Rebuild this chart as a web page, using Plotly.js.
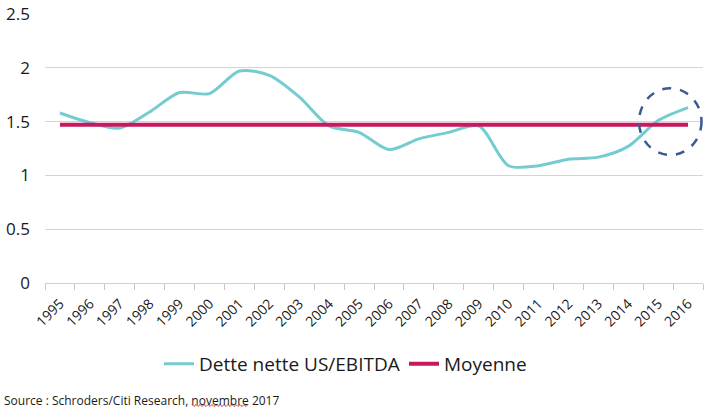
<!DOCTYPE html>
<html><head><meta charset="utf-8">
<script src="https://cdn.plot.ly/plotly-3.0.1.min.js"></script>
<style>html,body{margin:0;padding:0;background:#fff;}#chart{width:714px;height:409px;}</style>
</head><body><div id="chart"></div>
<script>
const years = ['1995','1996','1997','1998','1999','2000','2001','2002','2003','2004','2005','2006','2007','2008','2009','2010','2011','2012','2013','2014','2015','2016'];
const detteNette = [1.58,1.49,1.44,1.59,1.77,1.76,1.97,1.93,1.73,1.46,1.40,1.24,1.34,1.40,1.46,1.09,1.09,1.15,1.17,1.27,1.51,1.63];
const moyenne = [1.47,1.47,1.47,1.47,1.47,1.47,1.47,1.47,1.47,1.47,1.47,1.47,1.47,1.47,1.47,1.47,1.47,1.47,1.47,1.47,1.47,1.47];
const yTicks = [0,0.5,1,1.5,2,2.5];
const yTickText = ['0','0.5','1','1.5','2','2.5'];

const traces = [
  {x: years, y: detteNette, type:'scatter', mode:'lines', name:'Dette nette US/EBITDA',
   line:{color:'#74CCD0', width:3, shape:'spline', smoothing:0.8}},
  {x: years, y: moyenne, type:'scatter', mode:'lines', name:'Moyenne',
   line:{color:'#C8185E', width:4}}
];

// decorative spell-check squiggle under "novembre" (paper coords)
const W = 658, H = 269, L = 45, T = 14;
function px2paperX(p){ return (p - L) / W; }
function px2paperY(p){ return (T + H - p) / H; }
let sq = '';
for (let p = 192, i = 0; p <= 248; p += 2, i++) {
  const yy = 405.5 + (i % 2 === 0 ? -1 : 1);
  sq += (i === 0 ? 'M ' : ' L ') + px2paperX(p).toFixed(4) + ' ' + px2paperY(yy).toFixed(4);
}

const layout = {
  width:714, height:409,
  margin:{l:45, r:11, t:14, b:126, autoexpand:false},
  paper_bgcolor:'#fff', plot_bgcolor:'#fff',
  font:{family:'Open Sans, sans-serif', color:'#1a1a1a'},
  showlegend:true,
  legend:{orientation:'h', x:px2paperX(159), xanchor:'left', y:-0.23, yanchor:'top',
          font:{size:19, color:'#1a1a1a'}, itemwidth:30, traceorder:'normal',
          entrywidth:200, entrywidthmode:'pixels'},
  xaxis:{type:'category', range:[-0.5,21.5], tickangle:-45, tickfont:{size:14, color:'#1a1a1a'},
         showgrid:false, showline:true, linecolor:'#d0d0d0', linewidth:1,
         ticks:'outside', tickson:'boundaries', ticklen:6, tickcolor:'#c8c8c8',
         ticklabelstandoff:6, zeroline:false, fixedrange:true},
  yaxis:{range:[0,2.5], tickvals:yTicks, ticktext:yTickText, tickfont:{size:17, color:'#1a1a1a'},
         showgrid:true, gridcolor:'#d4d4d4', gridwidth:1, zeroline:false,
         ticks:'', ticklabelstandoff:14, showline:false, fixedrange:true},
  shapes:[
    {type:'circle', xref:'x', yref:'y', x0:19.36, x1:21.45, y0:1.19, y1:1.81,
     line:{color:'#3A5A92', width:2.5, dash:'dash'}},
    {type:'path', xref:'paper', yref:'paper', path:sq, line:{color:'#E03030', width:1}}
  ],
  annotations:[
    {xref:'paper', yref:'paper', x:px2paperX(2), y:px2paperY(390), xanchor:'left', yanchor:'top',
     text:'Source : Schroders/Citi Research, novembre 2017', showarrow:false,
     font:{size:12, color:'#1a1a1a'}}
  ]
};
Plotly.newPlot('chart', traces, layout, {displayModeBar:false, staticPlot:true});
</script></body></html>
